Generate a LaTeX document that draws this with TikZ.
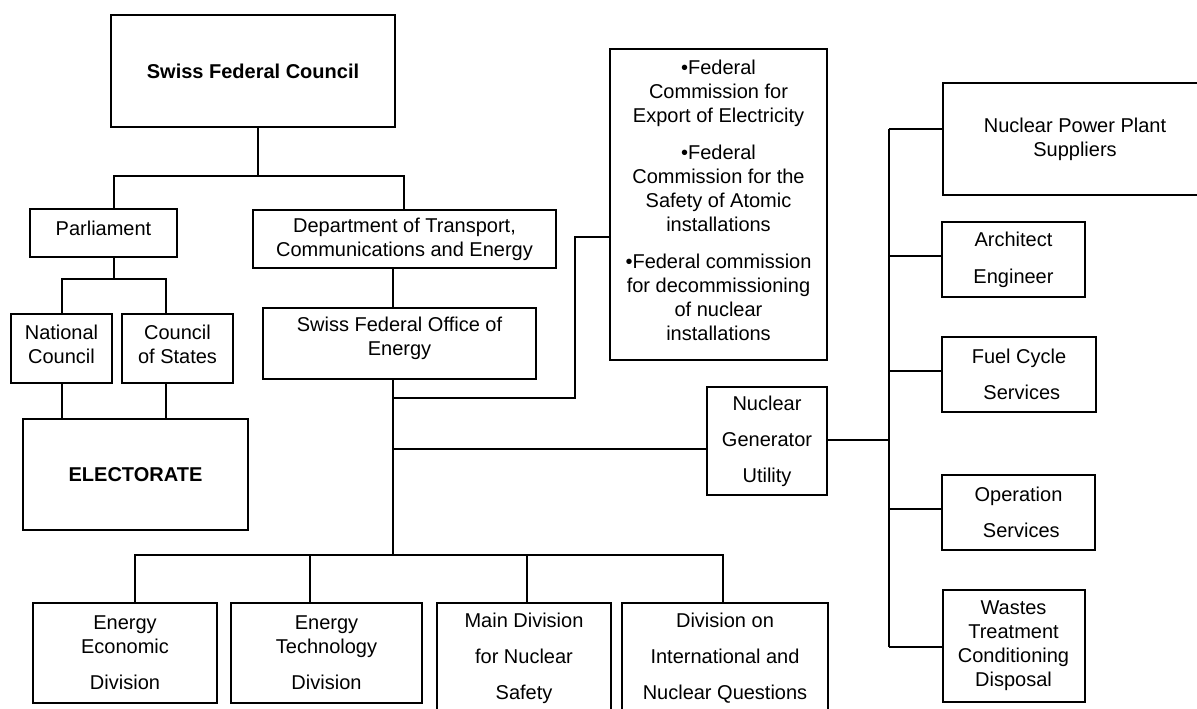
\documentclass[tikz,border=0pt]{standalone}
\usepackage{fontspec}
\setmainfont{Liberation Sans}
\begin{document}
\begin{tikzpicture}[x=0.5pt,y=-0.5pt,
  box/.style={draw, line width=1pt, inner sep=0pt, align=center, font=\fontsize{10}{12}\selectfont},
  txt/.style={inner sep=0pt, align=center, font=\fontsize{10}{12}\selectfont},
  conn/.style={line width=1pt}]
\fill[white] (0,0) rectangle (1197,708);
\useasboundingbox (0,0) rectangle (1197,708);

% boxes
\node[box, minimum width=142pt, minimum height=56pt, font=\fontsize{10}{12}\selectfont\bfseries] (sfc) at (253,71) {Swiss Federal Council};
\node[box, minimum width=73.5pt, minimum height=24pt] (parl) at (103.5,233) {};
\node[txt] (parlt) at ([yshift=2.5pt]parl.center) {Parliament};
\node[box, minimum width=151.5pt, minimum height=29pt] (dept) at (404.5,239) {Department of Transport,\\Communications and Energy};
\node[box, minimum width=50.5pt, minimum height=34.5pt] (nc) at (61.5,348.5) {};
\node[txt] (nct) at ([yshift=2pt]nc.center) {National\\Council};
\node[box, minimum width=55.5pt, minimum height=34.5pt] (cs) at (177.5,348.5) {};
\node[txt] (cst) at ([yshift=2pt]cs.center) {Council\\of States};
\node[box, minimum width=112.5pt, minimum height=55.5pt, font=\fontsize{10}{12}\selectfont\bfseries] (elec) at (135.5,474.5) {ELECTORATE};
\node[box, minimum width=136.5pt, minimum height=35.5pt] (sfoe) at (399.5,343.5) {};
\node[txt] (sfoet) at ([yshift=2.5pt]sfoe.center) {Swiss Federal Office of\\Energy};
\node[box, minimum width=108.5pt, minimum height=155.5pt] (comm) at (718.5,204.5) {};
\node[txt] (commt) at ([yshift=2.2pt]comm.center) {•Federal\\Commission for\\Export of Electricity\\[6.5pt]•Federal\\Commission for the\\Safety of Atomic\\installations\\[6.5pt]•Federal commission\\for decommissioning\\of nuclear\\installations};
\node[box, minimum width=60pt, minimum height=54pt] (ngu) at (767,441) {Nuclear\\[6pt]Generator\\[6pt]Utility};
\node[box, minimum width=132pt, minimum height=56pt] (npp) at (1075,139) {Nuclear Power Plant\\Suppliers};
\node[box, minimum width=71.5pt, minimum height=37.5pt] (arch) at (1013.5,259.5) {Architect\\[6.5pt]Engineer};
\node[box, minimum width=77pt, minimum height=37.5pt] (fuel) at (1019,374.5) {Fuel Cycle\\[6pt]\ Services};
\node[box, minimum width=76.5pt, minimum height=37.5pt] (oper) at (1018.5,512.5) {Operation\\[6pt]\ Services};
\node[box, minimum width=71pt, minimum height=56pt] (waste) at (1013.5,646) {Wastes\\Treatment\\Conditioning\\Disposal};
\node[box, minimum width=92pt, minimum height=50pt] (eed) at (125,653) {Energy\\Economic\\[6pt]Division};
\node[box, minimum width=95.5pt, minimum height=50pt] (etd) at (326.5,653) {Energy\\Technology\\[6pt]Division};
\node[box, minimum width=87pt, minimum height=55.5pt] (mdns) at (524,658.5) {Main Division\\[6pt]for Nuclear\\[6pt]Safety};
\node[box, minimum width=103pt, minimum height=55.5pt] (dinq) at (725,658.5) {Division on\\[6pt]International and\\[6pt]Nuclear Questions};

% junction coordinates
\coordinate (j1) at (258,176);
\coordinate (p1) at (114,176);
\coordinate (p2) at (404,176);
\coordinate (p3) at (114,279);
\coordinate (q1) at (62,279);
\coordinate (q2) at (166,279);
\coordinate (d1) at (393,288);
\coordinate (j2) at (393,555);
\coordinate (c1) at (393,398);
\coordinate (c2) at (575,237);
\coordinate (g1) at (393,449);
\coordinate (r0) at (889,440);
\coordinate (rt) at (889,129);
\coordinate (ra) at (889,256);
\coordinate (rf) at (889,371);
\coordinate (ro) at (889,509);
\coordinate (rw) at (889,647);
\coordinate (e1) at (135,555);
\coordinate (e2) at (310,555);
\coordinate (e3) at (527,555);
\coordinate (e4) at (723,555);

% connectors
\draw[conn] (sfc.south -| j1) -- (j1);
\draw[conn] (p1 |- parl.north) -- (p1) -- (p2) -- (p2 |- dept.north);
\draw[conn] (parl.south -| p3) -- (p3);
\draw[conn] (q1 |- nc.north) -- (q1) -- (q2) -- (q2 |- cs.north);
\draw[conn] (nc.south -| q1) -- (elec.north -| q1);
\draw[conn] (cs.south -| q2) -- (elec.north -| q2);
\draw[conn] (dept.south -| d1) -- (sfoe.north -| d1);
\draw[conn] (sfoe.south -| j2) -- (j2);
\draw[conn] (c1) -| (c2) -- (c2 -| comm.west);
\draw[conn] (g1) -- (g1 -| ngu.west);
\draw[conn] (ngu.east |- r0) -- (r0);
\draw[conn] (rt) -- (rw);
\draw[conn] (rt) -- (rt -| npp.west);
\draw[conn] (ra) -- (ra -| arch.west);
\draw[conn] (rf) -- (rf -| fuel.west);
\draw[conn] (ro) -- (ro -| oper.west);
\draw[conn] (rw) -- (rw -| waste.west);
\draw[conn] (e1 |- eed.north) -- (e1) -- (e4) -- (e4 |- dinq.north);
\draw[conn] (e2) -- (e2 |- etd.north);
\draw[conn] (e3) -- (e3 |- mdns.north);
\end{tikzpicture}
\end{document}
